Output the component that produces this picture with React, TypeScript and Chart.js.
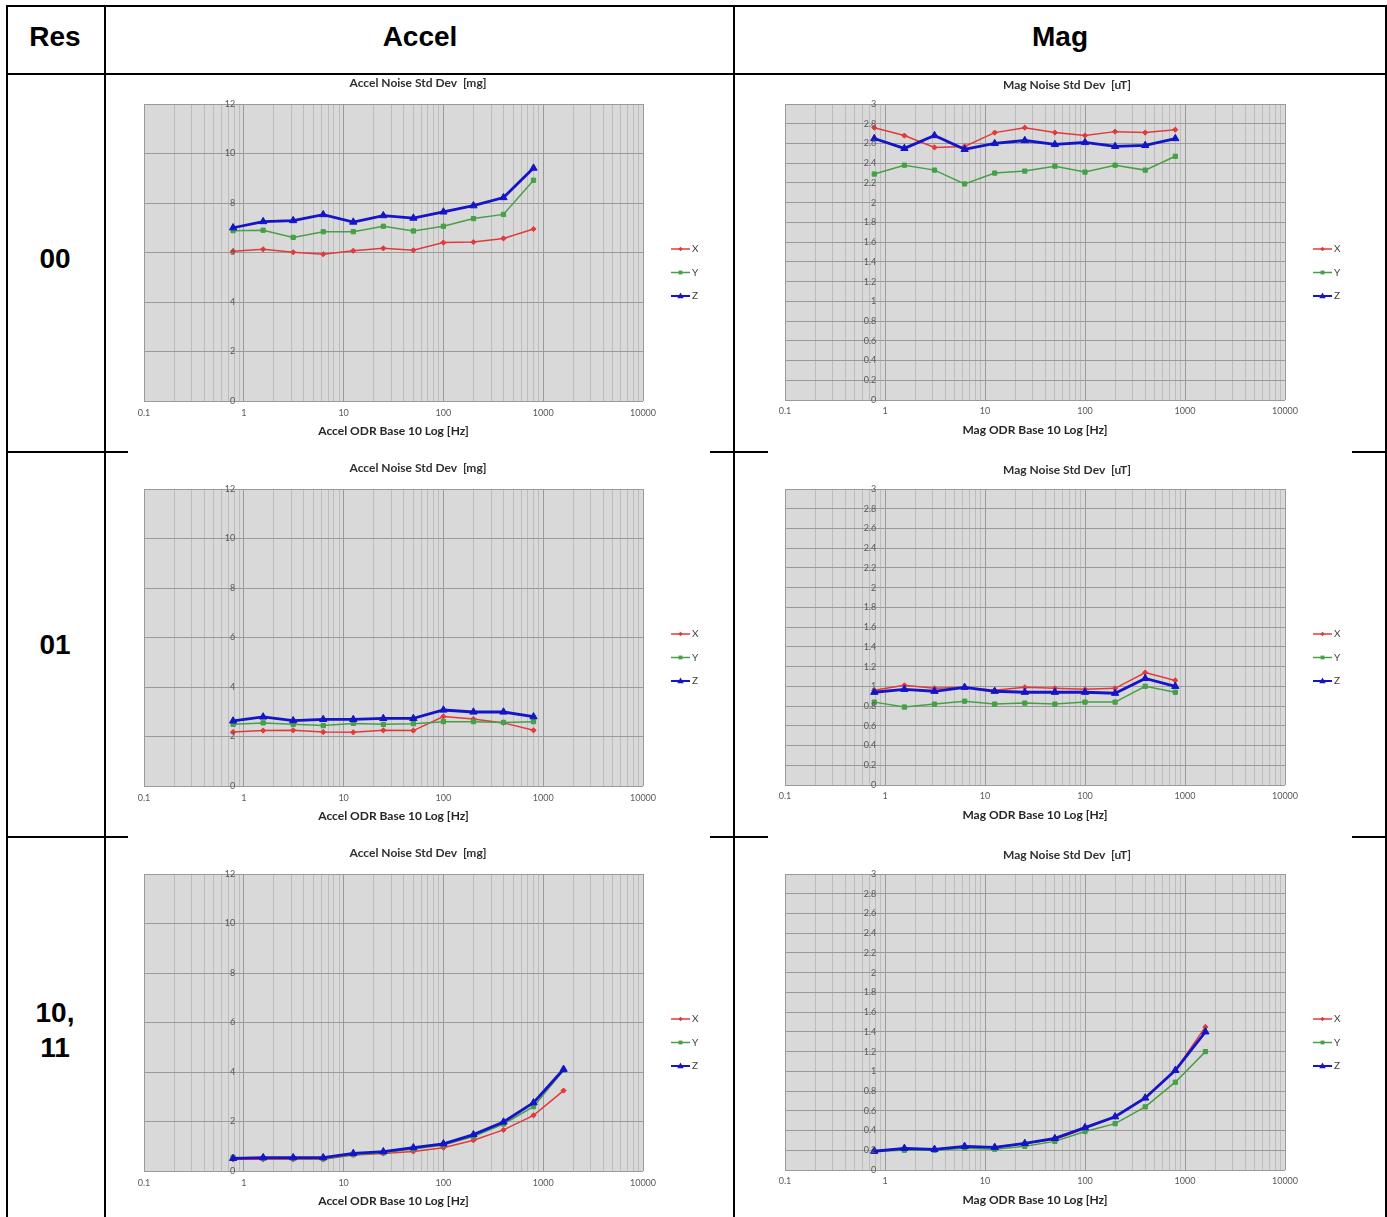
import React, { useEffect, useRef } from "react";
import { Chart, registerables } from "chart.js";

Chart.register(...registerables);

// ---------- data ----------
const odr = [0.78125, 1.5625, 3.125, 6.25, 12.5, 25, 50, 100, 200, 400, 800, 1600];
const xDecades = [0.1, 1, 10, 100, 1000, 10000];
const xTickLabels = ["0.1", "1", "10", "100", "1000", "10000"];
const accelYTicks = [0, 2, 4, 6, 8, 10, 12];
const accelYTickLabels = ["0", "2", "4", "6", "8", "10", "12"];
const magYTicks = [0, 0.2, 0.4, 0.6, 0.8, 1, 1.2, 1.4, 1.6, 1.8, 2, 2.2, 2.4, 2.6, 2.8, 3];
const magYTickLabels = ["0", "0.2", "0.4", "0.6", "0.8", "1", "1.2", "1.4", "1.6", "1.8", "2", "2.2", "2.4", "2.6", "2.8", "3"];
const seriesNames = ["X", "Y", "Z"];
const rowLabels = [["00"], ["01"], ["10,", "11"]];
const headerLabels = ["Res", "Accel", "Mag"];

const accel00X = [6.05, 6.13, 6.01, 5.93, 6.07, 6.17, 6.09, 6.4, 6.42, 6.57, 6.95];
const accel00Y = [6.88, 6.9, 6.61, 6.84, 6.84, 7.06, 6.87, 7.06, 7.37, 7.54, 8.92];
const accel00Z = [7.0, 7.25, 7.29, 7.53, 7.23, 7.49, 7.39, 7.64, 7.89, 8.22, 9.41];

const mag00X = [2.76, 2.68, 2.56, 2.57, 2.71, 2.76, 2.71, 2.68, 2.72, 2.71, 2.74];
const mag00Y = [2.29, 2.38, 2.33, 2.19, 2.3, 2.32, 2.37, 2.31, 2.38, 2.33, 2.47];
const mag00Z = [2.65, 2.55, 2.68, 2.54, 2.6, 2.63, 2.59, 2.61, 2.57, 2.58, 2.65];

const accel01X = [2.18, 2.24, 2.25, 2.18, 2.17, 2.25, 2.24, 2.81, 2.71, 2.55, 2.25];
const accel01Y = [2.49, 2.55, 2.49, 2.44, 2.53, 2.49, 2.52, 2.6, 2.6, 2.57, 2.6];
const accel01Z = [2.63, 2.79, 2.64, 2.69, 2.69, 2.73, 2.73, 3.07, 2.99, 2.99, 2.8];

const mag01X = [0.96, 1.01, 0.98, 0.99, 0.96, 0.99, 0.98, 0.97, 0.98, 1.14, 1.06];
const mag01Y = [0.84, 0.79, 0.82, 0.85, 0.82, 0.83, 0.82, 0.84, 0.84, 1.0, 0.94];
const mag01Z = [0.94, 0.97, 0.95, 0.99, 0.95, 0.94, 0.94, 0.94, 0.93, 1.08, 1.0];

const accel10X = [0.47, 0.47, 0.47, 0.47, 0.65, 0.71, 0.79, 0.94, 1.24, 1.66, 2.25, 3.25];
const accel10Y = [0.55, 0.51, 0.51, 0.5, 0.66, 0.74, 0.89, 1.05, 1.39, 1.9, 2.6, 4.07];
const accel10Z = [0.51, 0.54, 0.54, 0.54, 0.71, 0.78, 0.94, 1.1, 1.47, 1.98, 2.76, 4.11];

const mag10X = [0.19, 0.22, 0.21, 0.24, 0.23, 0.27, 0.31, 0.42, 0.54, 0.73, 1.01, 1.45];
const mag10Y = [0.19, 0.2, 0.2, 0.22, 0.21, 0.24, 0.29, 0.39, 0.47, 0.64, 0.89, 1.2];
const mag10Z = [0.19, 0.22, 0.21, 0.24, 0.23, 0.27, 0.32, 0.43, 0.54, 0.73, 1.01, 1.4];

// ---------- styles ----------
const FONT = "Lato, 'Open Sans', sans-serif";
const seriesColors = ["#e23a3a", "#46a046", "#1414c8"];
const seriesWidths = [1.5, 1.5, 2.8];
const seriesMarkers = ["rectRot", "rect", "triangle"];
const seriesRadii = [2.6, 3, 4.2];
const seriesOrder = [3, 2, 1];
const plotBg = "#d9d9d9";
const majorGrid = "#9a9a9a";
const minorGrid = "#bcbcbc";
const labelColor = "#595959";

const rowShift = [0, 385, 770];
const canvasTop = [76, 447, 833];
const canvasBottom = [446, 832, 1217];
const X_AXIS_H = 41;

const geom: any = {
  accel: {
    cl: 128, cw: 582, L: 144, R: 643, T: 104, B: 401,
    titleX: 418, titleY: 83, title: "Accel Noise Std Dev  [mg]",
    xTitle: "Accel ODR Base 10 Log [Hz]", yMax: 12,
    yTicks: accelYTicks, yLabels: accelYTickLabels, legendX: 671, labelPad: 7,
  },
  mag: {
    cl: 768, cw: 584, L: 785, R: 1285, T: 104, B: 400,
    titleX: 1067, titleY: 85, title: "Mag Noise Std Dev  [uT]",
    xTitle: "Mag ODR Base 10 Log [Hz]", yMax: 3,
    yTicks: magYTicks, yLabels: magYTickLabels, legendX: 1313, labelPad: 6,
  },
};
const legendY = [249, 272.5, 296];

const xGridValues: number[] = [];
xDecades.forEach((d, i) => {
  xGridValues.push(d);
  if (i < xDecades.length - 1) for (let m = 2; m <= 9; m++) xGridValues.push(d * m);
});
const decadeIndex = (v: number) => xDecades.findIndex((d) => Math.abs(d - v) / d < 1e-6);

function drawMarker(ctx: CanvasRenderingContext2D, style: string, x: number, y: number, r: number, color: string) {
  ctx.fillStyle = color;
  ctx.beginPath();
  if (style === "rectRot") {
    ctx.moveTo(x, y - r); ctx.lineTo(x + r, y); ctx.lineTo(x, y + r); ctx.lineTo(x - r, y);
  } else if (style === "rect") {
    ctx.rect(x - r * 0.75, y - r * 0.75, r * 1.5, r * 1.5);
  } else {
    ctx.moveTo(x, y - r); ctx.lineTo(x + r * 0.9, y + r * 0.6); ctx.lineTo(x - r * 0.9, y + r * 0.6);
  }
  ctx.closePath();
  ctx.fill();
}

const decorPlugin = {
  id: "decor",
  beforeDraw(chart: any) {
    const { ctx, chartArea } = chart;
    ctx.save();
    ctx.fillStyle = plotBg;
    ctx.fillRect(chartArea.left, chartArea.top, chartArea.right - chartArea.left, chartArea.bottom - chartArea.top);
    ctx.restore();
  },
  afterDraw(chart: any, _a: any, opts: any) {
    const { ctx } = chart;
    const g = geom[opts.kind];
    const shift = rowShift[opts.row];
    const ox = g.cl;
    const oy = canvasTop[opts.row];
    ctx.save();
    // title
    ctx.font = `bold 12px ${FONT}`;
    ctx.fillStyle = "#303030";
    ctx.textAlign = "center";
    ctx.textBaseline = "middle";
    ctx.fillText(g.title, g.titleX - ox, g.titleY + shift - oy);
    // y tick labels at the axis crossing
    const xs = chart.scales.x;
    const ys = chart.scales.y;
    const axX = xs.getPixelForValue(odr[0]) + 2;
    ctx.font = `9px ${FONT}`;
    ctx.fillStyle = labelColor;
    ctx.textAlign = "right";
    g.yTicks.forEach((v: number, i: number) => {
      ctx.fillText(g.yLabels[i], axX, ys.getPixelForValue(v));
    });
    // legend
    seriesNames.forEach((name, k) => {
      const y = legendY[k] + shift - oy;
      const x0 = g.legendX - ox;
      ctx.strokeStyle = seriesColors[k];
      ctx.lineWidth = k === 2 ? 2 : 1.5;
      ctx.beginPath();
      ctx.moveTo(x0, y);
      ctx.lineTo(x0 + 19, y);
      ctx.stroke();
      drawMarker(ctx, seriesMarkers[k], x0 + 9.5, y, seriesRadii[k] * 0.85, seriesColors[k]);
      ctx.font = `10px ${FONT}`;
      ctx.fillStyle = "#404040";
      ctx.textAlign = "left";
      ctx.fillText(name, x0 + 21, y);
    });
    ctx.restore();
  },
};

function buildConfig(kind: string, row: number, series: number[][]) {
  const g = geom[kind];
  const shift = rowShift[row];
  const ct = canvasTop[row];
  const ch = canvasBottom[row] - ct;
  const T = g.T + shift;
  const B = g.B + shift;
  const datasets = series.map((vals, k) => ({
    label: seriesNames[k],
    data: vals.map((v, i) => ({ x: odr[i], y: v })),
    borderColor: seriesColors[k],
    backgroundColor: seriesColors[k],
    borderWidth: seriesWidths[k],
    pointStyle: seriesMarkers[k],
    pointRadius: seriesRadii[k],
    pointBorderWidth: 1,
    pointBorderColor: seriesColors[k],
    pointBackgroundColor: seriesColors[k],
    tension: 0,
    order: seriesOrder[k],
  }));
  return {
    type: "line",
    data: { datasets },
    plugins: [decorPlugin],
    options: {
      animation: false,
      responsive: false,
      devicePixelRatio: 1,
      layout: {
        padding: {
          left: g.L - g.cl,
          right: g.cl + g.cw - g.R,
          top: T - ct,
          bottom: ct + ch - (B + X_AXIS_H),
        },
      },
      plugins: {
        legend: { display: false },
        title: { display: false },
        tooltip: { enabled: false },
        decor: { kind, row },
      },
      scales: {
        x: {
          type: "logarithmic",
          min: 0.1,
          max: 10000,
          afterBuildTicks: (scale: any) => {
            scale.ticks = xGridValues.map((v) => ({ value: v, major: decadeIndex(v) >= 0 }));
          },
          afterFit: (scale: any) => {
            scale.height = X_AXIS_H;
          },
          ticks: {
            autoSkip: false,
            maxRotation: 0,
            minRotation: 0,
            padding: g.labelPad,
            font: { family: FONT, size: 9 },
            color: labelColor,
            callback: (value: number) => {
              const i = decadeIndex(value);
              return i >= 0 ? xTickLabels[i] : "";
            },
          },
          grid: {
            drawTicks: false,
            lineWidth: 1,
            color: (c: any) => (c.tick && decadeIndex(c.tick.value) >= 0 ? majorGrid : minorGrid),
          },
          border: { display: false },
          title: {
            display: true,
            text: g.xTitle,
            color: "#262626",
            font: { family: FONT, size: 12, weight: "bold" },
            padding: { top: 0, bottom: 4 },
          },
        },
        y: {
          type: "linear",
          min: 0,
          max: g.yMax,
          afterBuildTicks: (scale: any) => {
            scale.ticks = g.yTicks.map((v: number) => ({ value: v }));
          },
          afterFit: (scale: any) => {
            scale.width = 0;
          },
          ticks: { display: false },
          grid: { drawTicks: false, color: majorGrid, lineWidth: 1 },
          border: { display: false },
        },
      },
    },
  } as any;
}

function Panel({ kind, row, series }: { kind: string; row: number; series: number[][] }) {
  const ref = useRef<HTMLCanvasElement>(null);
  const g = geom[kind];
  const ct = canvasTop[row];
  const ch = canvasBottom[row] - ct;
  useEffect(() => {
    const chart = new Chart(ref.current as HTMLCanvasElement, buildConfig(kind, row, series));
    return () => chart.destroy();
  }, []);
  return (
    <canvas
      ref={ref}
      width={g.cw}
      height={ch}
      style={{ position: "absolute", left: g.cl, top: ct, width: g.cw, height: ch, background: "#fff", zIndex: 2 }}
    />
  );
}

const line = (left: number, top: number, width: number, height: number, key: string) => (
  <div key={key} style={{ position: "absolute", left, top, width, height, background: "#000", zIndex: 1 }} />
);

const cellText = (text: string, cx: number, cy: number, key: string) => (
  <div
    key={key}
    style={{
      position: "absolute",
      left: cx - 60,
      top: cy - 16,
      width: 120,
      height: 32,
      lineHeight: "32px",
      textAlign: "center",
      fontFamily: "'Liberation Sans', Arial, sans-serif",
      fontWeight: "bold",
      fontSize: 28,
      color: "#000",
      zIndex: 3,
    }}
  >
    {text}
  </div>
);

export default function App() {
  const rowCenters = [259, 645, 1013];
  return (
    <div style={{ position: "absolute", left: 0, top: 0, width: 1387, height: 1217, background: "#fff", overflow: "hidden" }}>
      {line(6, 5, 1381, 2, "top")}
      {line(6, 73, 1381, 2, "hdr")}
      {line(6, 451, 1381, 2, "r1")}
      {line(6, 836, 1381, 2, "r2")}
      {line(6, 5, 2, 1212, "vl")}
      {line(104, 5, 2, 1212, "v1")}
      {line(733, 5, 2, 1212, "v2")}
      {line(1385, 5, 2, 1212, "vr")}
      {cellText(headerLabels[0], 55, 37, "h0")}
      {cellText(headerLabels[1], 420, 37, "h1")}
      {cellText(headerLabels[2], 1060, 37, "h2")}
      {rowLabels.map((lines, r) =>
        lines.map((t, j) => cellText(t, 55, rowCenters[r] + j * 35, `rl${r}${j}`))
      )}
      <Panel kind="accel" row={0} series={[accel00X, accel00Y, accel00Z]} />
      <Panel kind="mag" row={0} series={[mag00X, mag00Y, mag00Z]} />
      <Panel kind="accel" row={1} series={[accel01X, accel01Y, accel01Z]} />
      <Panel kind="mag" row={1} series={[mag01X, mag01Y, mag01Z]} />
      <Panel kind="accel" row={2} series={[accel10X, accel10Y, accel10Z]} />
      <Panel kind="mag" row={2} series={[mag10X, mag10Y, mag10Z]} />
    </div>
  );
}
